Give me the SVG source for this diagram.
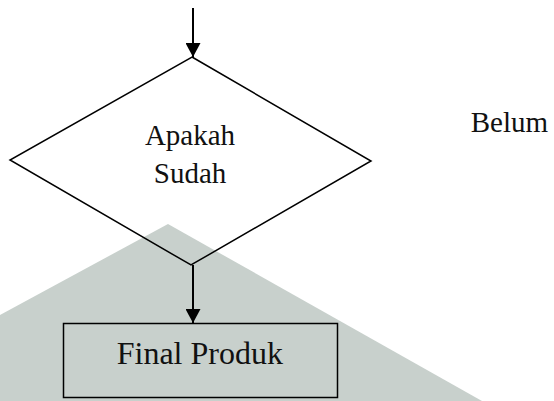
<svg xmlns="http://www.w3.org/2000/svg" width="554" height="401" viewBox="0 0 554 401">
<style>
.t{font-family:'Liberation Serif',serif;fill:#111}
.shape{fill:none;stroke:#000;stroke-width:1.5}
.conn{stroke:#000;stroke-width:2;fill:none}
</style>
<defs>
<marker id="ah" markerUnits="userSpaceOnUse" markerWidth="16" markerHeight="15" refX="15" refY="8" orient="auto" viewBox="0 0 16 16">
<path d="M0,0 L15,8 L0,16 Z" fill="#000"/>
</marker>
</defs>
<rect width="554" height="401" fill="#fff"/>
<polygon points="0,315 168,224 482,401 0,401" fill="#c8d0cc"/>
<g id="decision">
<polygon class="shape" points="192,57 371,161 191,265 10,160"/>
<text class="t" font-family="Liberation Serif, serif" x="190" y="145" font-size="29" text-anchor="middle">Apakah</text>
<text class="t" font-family="Liberation Serif, serif" x="190" y="183" font-size="29" text-anchor="middle">Sudah</text>
</g>
<g id="final">
<rect class="shape" x="63.5" y="323.5" width="274" height="74"/>
<text class="t" font-family="Liberation Serif, serif" x="116.7" y="364" font-size="32">Final Produk</text>
</g>
<g id="label-belum">
<text class="t" font-family="Liberation Serif, serif" x="470.7" y="132" font-size="29">Belum</text>
</g>
<g id="connectors">
<line class="conn" x1="193" y1="8" x2="193" y2="57" marker-end="url(#ah)"/>
<line class="conn" x1="193" y1="265" x2="193" y2="323" marker-end="url(#ah)"/>
</g>
</svg>
